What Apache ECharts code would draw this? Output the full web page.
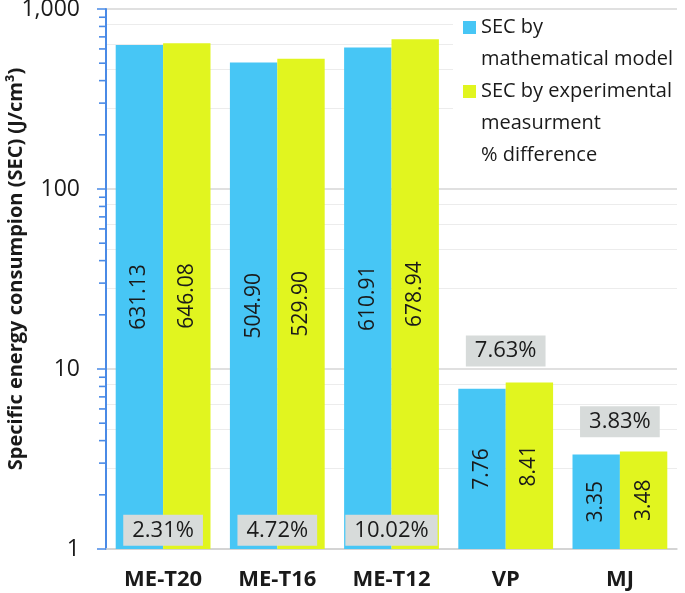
<!DOCTYPE html>
<html><head><meta charset="utf-8">
<script src="https://cdn.jsdelivr.net/npm/echarts@6/dist/echarts.min.js"></script>
<style>html,body{margin:0;padding:0;background:#fff}#c{width:685px;height:593px}</style>
</head><body><div id="c"></div>
<script>
// ---- data ----
const categories = ['ME-T20', 'ME-T16', 'ME-T12', 'VP', 'MJ'];
const secModel = [631.13, 504.90, 610.91, 7.76, 3.35];
const secExperimental = [646.08, 529.90, 678.94, 8.41, 3.48];
const pctDifference = ['2.31%', '4.72%', '10.02%', '7.63%', '3.83%'];
const pctLabelAt = [1.27, 1.27, 1.27, 12.6, 5.1]; // y value where each % box sits
const seriesNames = ['SEC by mathematical model', 'SEC by experimental measurment', '% difference'];
const legendText = ['SEC by\nmathematical model', 'SEC by experimental\nmeasurment', '% difference\n '];
const yAxisName = 'Specific energy consumpion (SEC) (J/cm\u00B3)';
const minorTickValues = [2, 3, 4, 5, 6, 7, 8, 9, 20, 30, 40, 50, 60, 70, 80, 90, 200, 300, 400, 500, 600, 700, 800, 900];

// ---- chart ----
const FONT = 'Open Sans';
const TXT = '#1a1a1a';
const AXIS_BLUE = '#4a8ae6';
const chart = echarts.init(document.getElementById('c'), null, {renderer: 'canvas'});
const tallIcon = 'path://M0,0H13V13H0Z M0,43.99H0.01V44H0Z';

const valueLabel = {
  show: true, position: 'inside', rotate: 90,
  fontFamily: FONT, fontSize: 21, color: TXT,
  formatter: p => p.value.toFixed(2)
};

chart.setOption({
  animation: false,
  backgroundColor: '#fff',
  textStyle: {fontFamily: FONT},
  grid: {left: 106, right: 8, top: 9, bottom: 44, containLabel: false, outerBoundsMode: 'none'},
  graphic: [{
    type: 'rect', left: 453, top: 11, z: 1,
    shape: {width: 226, height: 160},
    style: {fill: '#fff'}
  }],
  legend: {
    orient: 'vertical', left: 453, top: 11,
    padding: [0, 2, 0, 10],
    itemWidth: 13, itemHeight: 44, itemGap: 0,
    textStyle: {fontFamily: FONT, fontSize: 20, color: TXT, lineHeight: 32},
    formatter: name => legendText[seriesNames.indexOf(name)],
    data: [
      {name: seriesNames[0], icon: tallIcon},
      {name: seriesNames[1], icon: tallIcon},
      {name: seriesNames[2], icon: tallIcon, itemStyle: {opacity: 0, color: 'rgba(0,0,0,0)'}}
    ],
    z: 5
  },
  xAxis: {
    type: 'category', data: categories,
    axisLine: {show: true, lineStyle: {color: '#d0d0d0', width: 1.5}},
    axisTick: {show: false},
    axisLabel: {fontFamily: FONT, fontSize: 22, fontWeight: 'bold', color: TXT, margin: 20},
    splitLine: {show: false}
  },
  yAxis: {
    type: 'log', logBase: 10, min: 1, max: 1000,
    name: yAxisName, nameLocation: 'middle', nameGap: 80, nameMoveOverlap: false,
    nameTextStyle: {fontFamily: FONT, fontSize: 20, fontWeight: 'bold', color: TXT, padding: [0, 0, 0, 20]},
    axisLine: {show: true, lineStyle: {color: AXIS_BLUE, width: 2}},
    axisTick: {show: true, inside: false, length: 9, lineStyle: {color: AXIS_BLUE, width: 1.5}},
    minorTick: {show: false},
    axisLabel: {
      fontFamily: FONT, fontSize: 23, color: TXT, margin: 26,
      formatter: v => Number(v).toLocaleString('en-US')
    },
    splitLine: {show: true, lineStyle: {color: '#d6d6d6', width: 1.5}},
    minorSplitLine: {show: true, lineStyle: {color: '#ececec', width: 1.2}}
  },
  series: [
    {
      name: seriesNames[0], type: 'bar', data: secModel,
      barGap: '0%', barCategoryGap: '17%',
      itemStyle: {color: '#47c6f5'},
      label: valueLabel, z: 2
    },
    {
      name: seriesNames[1], type: 'bar', data: secExperimental,
      itemStyle: {color: '#e1f51f'},
      label: valueLabel, z: 2
    },
    {
      name: seriesNames[2], type: 'scatter',
      data: categories.map((c, i) => [c, pctLabelAt[i]]),
      symbolSize: 0,
      itemStyle: {color: 'rgba(0,0,0,0)', opacity: 1},
      z: 4,
      label: {
        show: true, position: 'inside', opacity: 1,
        fontFamily: FONT, fontSize: 22, color: TXT,
        backgroundColor: '#d7dbda', padding: [5, 9, 4, 9],
        formatter: p => pctDifference[p.dataIndex]
      }
    },
    {
      name: 'minor ticks', type: 'custom', silent: true, clip: false, z: 3,
      data: minorTickValues.map(v => [0, v]),
      encode: {x: 0, y: 1},
      renderItem: (params, api) => {
        const y = api.coord([0, api.value(1)])[1];
        const x0 = params.coordSys.x;
        return {
          type: 'line',
          shape: {x1: x0 - 7, y1: y, x2: x0, y2: y},
          style: {stroke: AXIS_BLUE, lineWidth: 1.6}
        };
      }
    }
  ]
});
</script>
</body></html>
